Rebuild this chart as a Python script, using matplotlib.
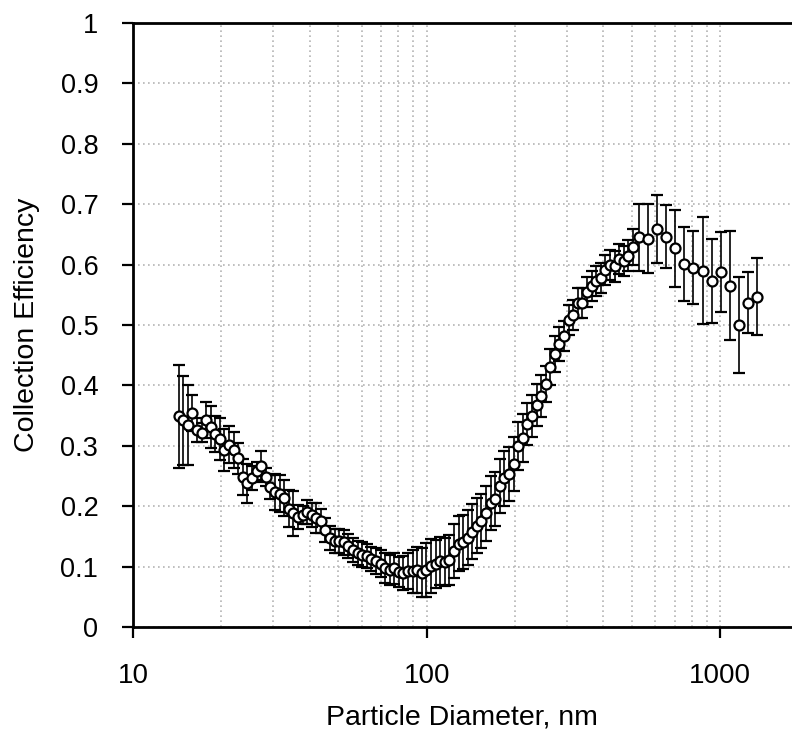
import matplotlib
matplotlib.use("Agg")
import matplotlib.pyplot as plt
from matplotlib.ticker import LogLocator, NullFormatter, FixedLocator

# ── data ──
smps_d = [14.3, 14.82, 15.37, 15.93, 16.51, 17.12, 17.74, 18.40, 19.07, 19.77,
          20.49, 21.24, 22.02, 22.83, 23.66, 24.53, 25.43, 26.36, 27.33, 28.33,
          29.37, 30.44, 31.56, 32.71, 33.91, 35.15, 36.44, 37.78, 39.16, 40.59,
          42.08, 43.62, 45.22, 46.88, 48.59, 50.37, 52.22, 54.13, 56.12, 58.17,
          60.30, 62.51, 64.80, 67.18, 69.64, 72.19, 74.83, 77.57, 80.41, 83.36,
          86.41, 89.58, 92.86, 96.26, 99.79, 103.4, 107.2, 111.2, 115.2, 119.5,
          123.8, 128.4, 133.1, 137.9, 143.0, 148.2, 153.7, 159.3, 165.1, 171.2,
          177.4, 184.0, 190.7, 197.7, 204.9, 212.4, 220.2, 228.3, 236.6, 245.3,
          254.3, 263.6, 273.3, 283.3, 293.7, 304.4, 315.6, 327.1, 339.1, 351.5,
          364.4, 377.8, 391.6, 406.0, 420.8, 436.3, 452.2, 468.8, 486.0, 503.8]
smps_eff = [0.349, 0.342, 0.335, 0.354, 0.326, 0.322, 0.343, 0.331, 0.320, 0.311,
            0.293, 0.302, 0.293, 0.279, 0.248, 0.238, 0.247, 0.258, 0.266, 0.249,
            0.232, 0.224, 0.221, 0.214, 0.196, 0.188, 0.182, 0.185, 0.191, 0.186,
            0.180, 0.175, 0.160, 0.148, 0.143, 0.142, 0.140, 0.134, 0.128, 0.123,
            0.120, 0.117, 0.113, 0.109, 0.105, 0.098, 0.095, 0.097, 0.091, 0.089,
            0.093, 0.092, 0.095, 0.090, 0.094, 0.101, 0.104, 0.109, 0.108, 0.111,
            0.126, 0.138, 0.141, 0.148, 0.158, 0.168, 0.175, 0.188, 0.205, 0.212,
            0.233, 0.246, 0.253, 0.270, 0.300, 0.313, 0.336, 0.349, 0.367, 0.383,
            0.402, 0.430, 0.452, 0.469, 0.482, 0.508, 0.517, 0.537, 0.537, 0.554,
            0.565, 0.573, 0.578, 0.591, 0.599, 0.597, 0.609, 0.606, 0.615, 0.629]
smps_err = [0.085, 0.073, 0.066, 0.030, 0.020, 0.015, 0.030, 0.035, 0.030, 0.035,
            0.035, 0.030, 0.030, 0.025, 0.030, 0.032, 0.020, 0.015, 0.026, 0.015,
            0.020, 0.030, 0.030, 0.030, 0.030, 0.037, 0.020, 0.015, 0.020, 0.020,
            0.025, 0.020, 0.020, 0.020, 0.020, 0.020, 0.020, 0.020, 0.020, 0.020,
            0.020, 0.020, 0.020, 0.022, 0.022, 0.025, 0.025, 0.025, 0.025, 0.028,
            0.030, 0.035, 0.038, 0.040, 0.045, 0.045, 0.040, 0.040, 0.040, 0.042,
            0.045, 0.045, 0.045, 0.045, 0.045, 0.045, 0.045, 0.045, 0.045, 0.045,
            0.045, 0.045, 0.045, 0.045, 0.040, 0.040, 0.035, 0.035, 0.035, 0.035,
            0.030, 0.030, 0.030, 0.028, 0.025, 0.025, 0.025, 0.025, 0.025, 0.025,
            0.025, 0.025, 0.025, 0.025, 0.025, 0.025, 0.025, 0.025, 0.025, 0.030]

aps_d = [528, 567, 608, 653, 703, 754, 809, 871, 934, 1002, 1076, 1158, 1243, 1334]
aps_eff = [0.645, 0.643, 0.659, 0.646, 0.627, 0.601, 0.595, 0.590, 0.573, 0.588,
           0.565, 0.500, 0.537, 0.547]
aps_err = [0.055, 0.057, 0.057, 0.052, 0.064, 0.061, 0.060, 0.088, 0.069, 0.066,
           0.090, 0.079, 0.051, 0.064]

y_ticks = [0, 0.1, 0.2, 0.3, 0.4, 0.5, 0.6, 0.7, 0.8, 0.9, 1]
y_labels = ["0", "0.1", "0.2", "0.3", "0.4", "0.5", "0.6", "0.7", "0.8", "0.9", "1"]

plt.rcParams["font.family"] = ["Liberation Sans", "DejaVu Sans"]

fig = plt.figure(figsize=(7.92, 7.37), dpi=100)
ax = fig.add_axes([133 / 792, 1 - 627 / 737, (791 - 133) / 792, (627 - 23) / 737])

diam = smps_d + aps_d
eff = smps_eff + aps_eff
err = smps_err + aps_err

ax.errorbar(diam, eff, yerr=err, fmt="o", ms=7.2, mfc="white", mec="black",
            mew=1.6, ecolor="black", elinewidth=1.2, capsize=4.3, capthick=1.2,
            zorder=3)

ax.set_xscale("log")
ax.set_xlim(10, 1740)
ax.set_ylim(0, 1)

ax.xaxis.set_major_locator(FixedLocator([10, 100, 1000]))
ax.set_xticklabels(["10", "100", "1000"])
ax.xaxis.set_minor_locator(LogLocator(base=10, subs=range(2, 10)))
ax.xaxis.set_minor_formatter(NullFormatter())
ax.set_yticks(y_ticks)
ax.set_yticklabels(y_labels)

ax.grid(True, which="both", axis="x", linestyle=(0, (1, 2)), color="#b4b4b4", linewidth=1.2, zorder=0)
ax.grid(True, which="major", axis="y", linestyle=(0, (1, 2)), color="#b4b4b4", linewidth=1.2, zorder=0)
ax.set_axisbelow(True)

ax.tick_params(axis="x", which="major", direction="out", length=8, width=1.6,
               pad=18, labelsize=20)
ax.tick_params(axis="x", which="minor", length=0)
ax.tick_params(axis="y", direction="out", length=8, width=1.6, pad=17, labelsize=19.5)

for s in ["left", "bottom", "top"]:
    ax.spines[s].set_linewidth(2.0)
ax.spines["right"].set_visible(False)

ax.set_xlabel("Particle Diameter, nm", fontsize=20.5, labelpad=11)
ax.set_ylabel("Collection Efficiency", fontsize=20.5, labelpad=15)

fig.savefig("out.png", dpi=100)
